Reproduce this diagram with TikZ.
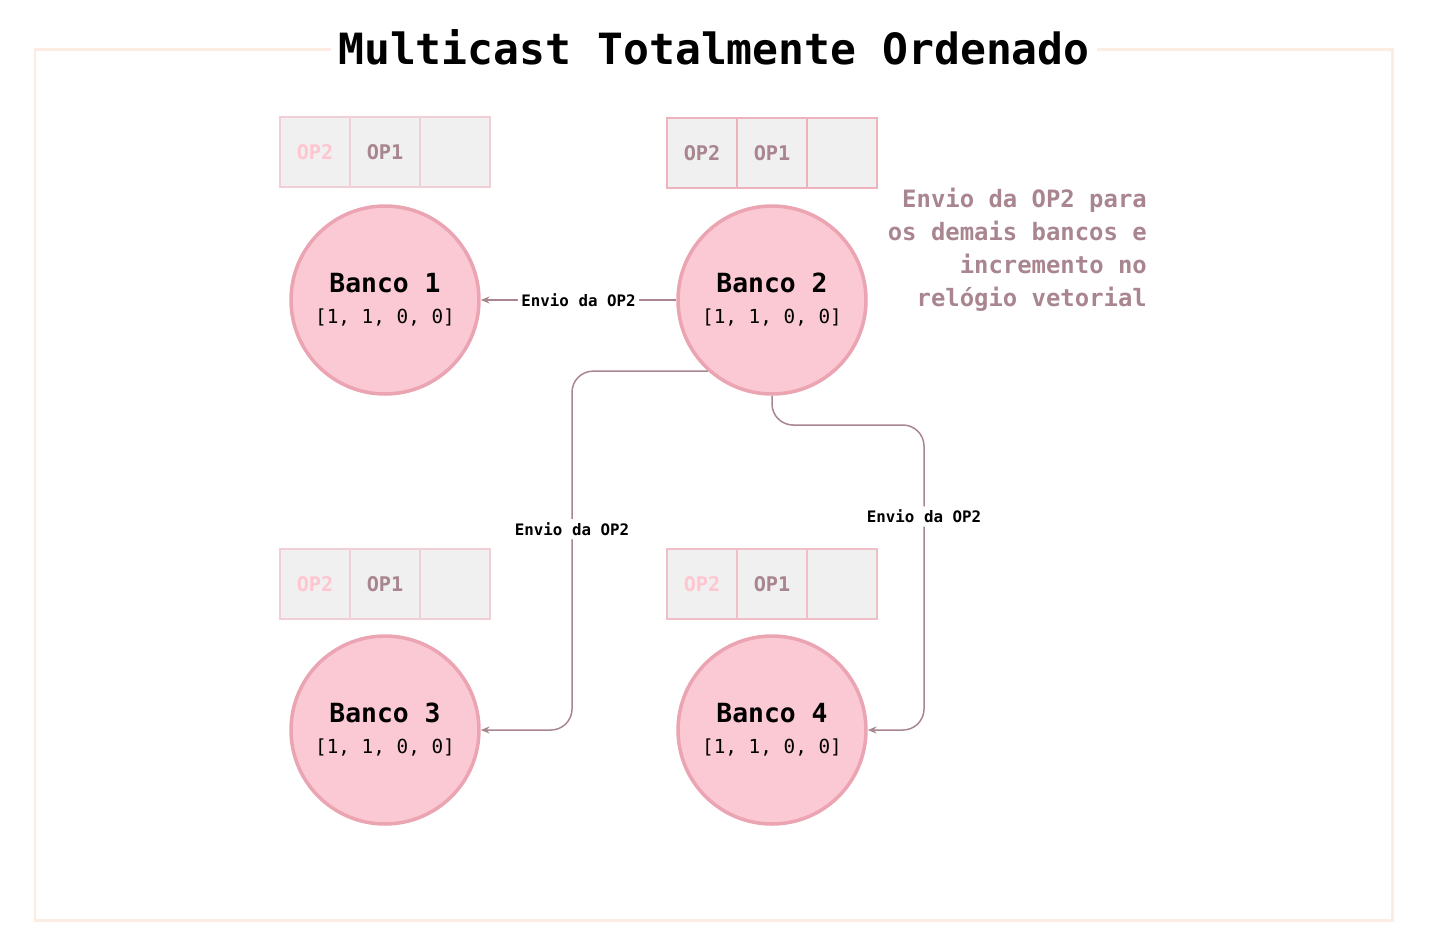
\documentclass[tikz,border=0pt]{standalone}
\usepackage{fontspec}
\setmainfont{DejaVu Sans Mono}
\setmonofont{DejaVu Sans Mono}
\usepackage{tikz}
\usetikzlibrary{positioning, arrows.meta}
\definecolor{moldura}{HTML}{FDECE3}
\definecolor{celula}{HTML}{F0F0F0}
\definecolor{bordacel}{HTML}{F0CFD5}
\definecolor{rosa}{HTML}{FBC9D3}
\definecolor{bordarosa}{HTML}{EBA4B1}
\definecolor{malva}{HTML}{A8858F}
\definecolor{rosaclaro}{HTML}{FFC6D0}

\begin{document}
\begin{tikzpicture}[x=0.02cm, y=-0.02cm]
\tikzstyle{banco}=[circle,fill=rosa,draw=bordarosa,line width=2pt,minimum size=3.76cm,align=center,font=\fontsize{15}{17.6}\selectfont]
\tikzstyle{cel}=[rectangle,fill=celula,draw=bordacel,line width=0.6pt,minimum width=1.4cm,minimum height=1.4cm,inner sep=0pt,font=\bfseries\fontsize{11.5}{13}\selectfont,text=malva]
\tikzstyle{lbl}=[fill=white,font=\bfseries\fontsize{9}{11}\selectfont,inner sep=2pt]
\tikzstyle{envio}=[-{Stealth[length=5pt,width=4pt]},draw=malva,line width=0.85pt,rounded corners=12pt]
\useasboundingbox (0,0) rectangle (1429,948);
% moldura e titulo
\draw[moldura,line width=1.7pt] (35,49) rectangle (1392,920);
\node[fill=white,inner xsep=4pt,font=\bfseries\fontsize{24.5}{30}\selectfont] (titulo) at (714,47) {Multicast Totalmente Ordenado};
% filas
\node[cel,text=rosaclaro] (q1a) at (315,152) {OP2};
\node[cel] (q1b) at (385,152) {OP1};
\node[cel] (q1c) at (455,152) {};
\node[cel,draw=bordarosa!85] (q2a) at (702,153) {OP2};
\node[cel,draw=bordarosa!85] (q2b) at (772,153) {OP1};
\node[cel,draw=bordarosa!85] (q2c) at (842,153) {};
\node[cel,text=rosaclaro] (q3a) at (315,584) {OP2};
\node[cel] (q3b) at (385,584) {OP1};
\node[cel] (q3c) at (455,584) {};
\node[cel,text=rosaclaro,draw=bordarosa!70] (q4a) at (702,584) {OP2};
\node[cel,draw=bordarosa!70] (q4b) at (772,584) {OP1};
\node[cel,draw=bordarosa!70] (q4c) at (842,584) {};
% bancos
\node[banco] (b1) at (385,300) {\textbf{Banco 1}\\\fontsize{11}{12}\selectfont[1, 1, 0, 0]};
\node[banco] (b2) at (772,300) {\textbf{Banco 2}\\\fontsize{11}{12}\selectfont[1, 1, 0, 0]};
\node[banco] (b3) at (385,730) {\textbf{Banco 3}\\\fontsize{11}{12}\selectfont[1, 1, 0, 0]};
\node[banco] (b4) at (772,730) {\textbf{Banco 4}\\\fontsize{11}{12}\selectfont[1, 1, 0, 0]};
% anotacao
\node[align=right,anchor=north east,text=malva,font=\bfseries\fontsize{13.6}{18.8}\selectfont] (nota) at (1153,182)
{Envio da OP2 para\\os demais bancos e\\incremento no\\relógio vetorial};
% envios
\coordinate (c3) at (572,730);
\coordinate (c4) at (924,425);
\path[envio] (b2.west) -- node[lbl] {Envio da OP2} (b1.east);
\path[envio] (b2.228) -| (c3) node[lbl,pos=0.72] {Envio da OP2} -- (b3.east);
\path[envio] (b2.south) |- (c4) |- node[lbl,pos=0.15] {Envio da OP2} (b4.east);
\end{tikzpicture}
\end{document}
